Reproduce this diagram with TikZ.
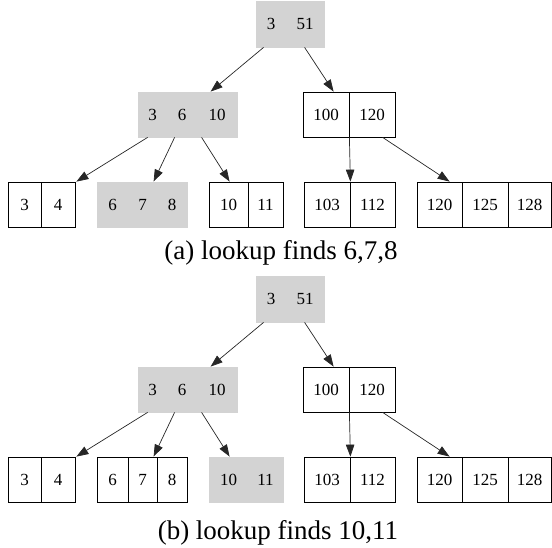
\documentclass[tikz,border=0pt]{standalone}
\usepackage{fontspec}
\setmainfont{Liberation Serif}
\usetikzlibrary{arrows.meta}

\definecolor{keyfill}{RGB}{211,211,211}
\newcommand\keyfont{\fontsize{17pt}{20pt}\selectfont}
\newcommand\capfont{\fontsize{27pt}{32pt}\selectfont}

\tikzset{
  plainfield/.style={draw=black, line width=0.8pt, inner sep=0pt, font=\keyfont},
  keyfield/.style={fill=keyfill, draw=keyfill, line width=0.8pt, inner sep=0pt, font=\keyfont},
  link/.style={line width=0.7pt, draw=black!85, -{Triangle[length=12pt,width=8.5pt]}},
  caption/.style={inner sep=0pt, font=\capfont, anchor=base},
}

% one field of a record: name, left x, right x, top y, height, style, text
\newcommand\field[7]{%
  \node[#6, minimum width={#3pt-#2pt}, minimum height={#5pt}]
    (#1) at ({(#2+#3)/2}, {#4+#5/2}) {#7};}

% one B+ tree: prefix, vertical offset, style of leaf 6-7-8, style of leaf 10-11
\newcommand\btree[4]{%
\begin{scope}[yshift=-#2pt]
  % root
  \field{#1-r1}{256}{286}{1}{46}{keyfield}{3}
  \field{#1-r2}{286}{324}{1}{46}{keyfield}{51}
  % inner nodes
  \field{#1-m1}{138}{167}{92}{45}{keyfield}{3}
  \field{#1-m2}{167}{197}{92}{45}{keyfield}{6}
  \field{#1-m3}{197}{237}{92}{45}{keyfield}{10}
  \field{#1-n1}{303}{349}{92}{45}{plainfield}{100}
  \field{#1-n2}{349}{395}{92}{45}{plainfield}{120}
  % leaves
  \field{#1-a1}{8}{41}{182}{45}{plainfield}{3}
  \field{#1-a2}{41}{75}{182}{45}{plainfield}{4}
  \field{#1-b1}{97}{128}{182}{45}{#3}{6}
  \field{#1-b2}{128}{157}{182}{45}{#3}{7}
  \field{#1-b3}{157}{187}{182}{45}{#3}{8}
  \field{#1-c1}{209}{248}{182}{45}{#4}{10}
  \field{#1-c2}{248}{283}{182}{45}{#4}{11}
  \field{#1-d1}{304}{350}{182}{45}{plainfield}{103}
  \field{#1-d2}{350}{395}{182}{45}{plainfield}{112}
  \field{#1-e1}{417}{462}{182}{45}{plainfield}{120}
  \field{#1-e2}{462}{508}{182}{45}{plainfield}{125}
  \field{#1-e3}{508}{551}{182}{45}{plainfield}{128}
  % pointer ports
  \coordinate (#1-ro1) at ([xshift=8pt]#1-r1.south west);
  \coordinate (#1-ro2) at ([xshift=19pt]#1-r2.south west);
  \coordinate (#1-mi)  at ([xshift=14pt]#1-m3.north west);
  \coordinate (#1-ni)  at ([xshift=31pt]#1-n1.north west);
  \coordinate (#1-mo1) at ([xshift=10pt]#1-m1.south west);
  \coordinate (#1-mo2) at ([xshift=8pt]#1-m2.south west);
  \coordinate (#1-mo3) at ([xshift=5pt]#1-m3.south west);
  \coordinate (#1-no1) at (#1-n1.south east);
  \coordinate (#1-no2) at ([xshift=34pt]#1-n2.south west);
  \coordinate (#1-ai)  at ([xshift=1pt]#1-a2.north east);
  \coordinate (#1-bi)  at ([xshift=26pt]#1-b2.north west);
  \coordinate (#1-ci)  at ([xshift=21pt]#1-c1.north west);
  \coordinate (#1-di)  at (#1-d1.north east);
  \coordinate (#1-ei)  at ([xshift=33pt]#1-e1.north west);
  % pointers
  \draw[link] (#1-ro1) -- (#1-mi);
  \draw[link] (#1-ro2) -- (#1-ni);
  \draw[link] (#1-mo1) -- (#1-ai);
  \draw[link] (#1-mo2) -- (#1-bi);
  \draw[link] (#1-mo3) -- (#1-ci);
  \draw[link] (#1-no1) -- (#1-di);
  \draw[link] (#1-no2) -- (#1-ei);
\end{scope}}

\begin{document}
\begin{tikzpicture}[x=1pt, y=-1pt]
  \useasboundingbox (0,0) rectangle (552,548);
  \btree{a}{0}{keyfield}{plainfield}
  \node[caption] (a-cap) at (281,260) {(a) lookup finds 6,7,8};
  \btree{b}{275}{plainfield}{keyfield}
  \node[caption] (b-cap) at (278,539) {(b) lookup finds 10,11};
\end{tikzpicture}
\end{document}
